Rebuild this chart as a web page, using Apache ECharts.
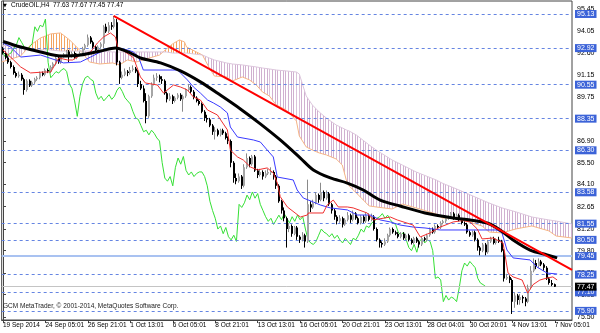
<!DOCTYPE html>
<html><head><meta charset="utf-8">
<script src="https://cdn.jsdelivr.net/npm/echarts@6/dist/echarts.min.js"></script>
<style>html,body{margin:0;padding:0;background:#fff;}#c{width:600px;height:333px;}</style>
</head><body><div id="c"></div>
<script>
// ---------- DATA ----------
const timeLabels = ["19 Sep 2014","24 Sep 05:01","26 Sep 21:01","1 Oct 13:01","6 Oct 05:01","8 Oct 21:01","13 Oct 13:01","16 Oct 05:01","20 Oct 21:01","23 Oct 13:01","28 Oct 04:01","30 Oct 20:01","4 Nov 13:01","7 Nov 05:01"];
const timeLabelBars = [0,16,32,48,64,80,96,112,128,144,160,176,192,208];
const priceTicks = [95.45,94.05,92.60,91.15,89.75,88.35,86.90,85.50,84.10,82.65,81.20,79.80,78.35,76.95,75.50];
const levels = [95.13,92.92,90.55,88.35,86.30,83.58,81.55,80.50,78.25,77.10,75.90];
const supportLevel = 79.45;
const bidPrice = 77.47;
const headerText = "CrudeOIL,H4  77.63 77.67 77.45 77.47";
const copyrightText = "GCM MetaTrader, \u00a9 2001-2014, MetaQuotes Software Corp.";

const opens = [92.9,92.6,92.3,92.0,91.7,91.3,91.1,91.2,90.9,90.2,90.8,90.5,90.7,90.9,91.0,91.3,91.2,91.5,91.4,91.7,
91.9,92.3,92.0,92.4,92.5,92.7,92.4,92.6,92.3,92.5,92.6,92.9,93.1,93.6,93.3,93.0,92.8,93.0,93.2,94.3,
94.0,94.4,94.3,94.6,92.0,91.0,91.2,91.4,91.3,91.5,91.6,91.4,90.6,90.3,89.5,88.5,89.8,90.6,91.0,91.1,
90.9,90.8,90.0,89.6,89.8,89.5,89.7,89.9,89.6,89.8,90.2,90.4,90.1,89.7,89.5,89.3,88.8,88.4,88.3,87.9,
87.5,87.6,87.3,87.6,87.4,87.1,86.9,85.5,84.5,84.3,84.6,84.0,85.2,85.8,85.4,85.9,85.0,84.7,84.9,84.6,
84.8,84.9,84.9,84.6,84.0,83.0,82.4,81.9,81.2,81.4,80.9,81.3,80.7,80.5,80.8,80.4,82.8,82.6,82.9,83.4,
83.1,83.6,83.2,83.5,82.8,82.4,82.0,81.7,81.9,81.5,81.8,82.1,81.8,82.2,81.9,81.6,82.0,81.7,82.1,81.8,
82.0,81.2,80.5,80.3,80.2,80.4,80.8,81.2,81.0,80.9,80.7,80.9,80.6,80.8,80.5,80.3,80.6,80.4,80.2,80.6,
80.5,80.8,81.2,81.0,81.4,81.3,81.6,81.7,81.9,82.0,82.2,81.9,82.1,81.8,81.6,81.5,81.0,80.8,81.0,80.5,
80.0,79.8,80.2,79.7,80.4,80.6,80.3,80.5,80.4,79.8,78.0,78.1,77.9,76.5,76.9,76.6,76.8,76.7,76.5,77.4,
78.5,79.0,78.8,79.1,78.9,78.7,78.0,77.7,77.63];
const highs = [93.0,92.7,92.4,92.1,91.8,91.4,91.4,91.3,91.0,90.9,90.9,90.8,91.0,91.1,91.4,91.4,91.6,91.6,91.8,92.0,
92.4,92.4,92.5,92.6,92.8,92.8,92.7,92.7,92.6,92.7,93.0,93.2,93.8,93.7,93.4,93.1,93.1,93.3,94.4,94.5,
94.6,94.6,95.0,94.8,92.1,91.4,91.6,91.5,91.7,91.8,91.7,91.5,90.8,90.5,90.0,89.9,90.7,91.2,91.3,91.2,
91.1,90.9,90.1,90.0,89.9,89.8,90.0,90.0,89.9,90.3,90.6,90.5,90.2,89.8,89.6,89.4,88.9,88.6,88.4,88.0,
87.8,87.7,87.7,87.7,87.5,87.2,87.0,85.6,84.8,84.8,84.7,85.4,86.1,85.9,86.0,86.0,85.1,85.1,85.0,85.0,
85.1,85.2,85.0,84.7,84.1,83.1,82.6,82.0,81.6,81.5,81.4,81.4,80.8,81.0,80.9,84.4,83.0,83.1,83.6,83.5,
84.2,83.7,83.7,83.6,82.9,82.5,82.1,82.1,82.0,81.9,82.3,82.2,82.4,82.3,82.0,82.1,82.1,82.3,82.2,82.2,
82.1,81.3,80.6,80.4,80.6,80.9,81.3,81.3,81.1,81.0,81.0,81.0,80.9,80.9,80.6,80.7,80.7,80.5,80.7,80.7,
80.9,81.3,81.3,81.5,81.5,81.7,81.8,82.0,82.1,82.3,82.3,82.2,82.2,81.9,81.7,81.6,81.1,81.1,81.1,80.6,
80.1,80.3,80.3,80.5,80.7,80.7,80.6,80.7,80.5,79.9,78.3,78.2,78.0,77.1,77.0,77.0,76.9,76.8,77.6,78.8,
79.3,79.2,79.3,79.2,79.0,78.8,78.1,77.9,77.67];
const lows = [92.5,92.2,91.9,91.6,91.2,91.0,91.0,90.8,89.9,90.1,90.4,90.4,90.6,90.8,90.9,91.1,91.1,91.3,91.3,91.6,
91.8,91.9,91.9,92.3,92.4,92.0,92.3,92.2,92.2,92.4,92.5,92.8,93.0,93.2,92.9,92.7,92.7,92.9,92.9,93.9,
93.9,94.1,94.2,91.8,90.6,90.9,91.1,91.1,91.2,91.4,91.3,90.4,90.2,89.4,88.05,88.4,89.7,90.5,90.8,90.7,
90.6,89.9,89.4,89.5,89.3,89.4,89.6,89.5,88.8,89.7,90.1,90.0,89.6,89.4,89.2,88.7,88.2,88.1,87.8,87.3,
87.0,87.2,87.2,87.3,87.0,86.7,85.2,84.2,84.1,84.2,83.8,83.9,85.1,85.2,85.3,84.9,84.5,84.6,84.4,84.5,
84.7,84.7,84.4,83.8,82.9,82.2,81.7,80.0,81.0,80.7,80.8,80.5,80.3,80.4,80.0,80.3,82.3,82.5,82.8,82.9,
83.0,83.0,83.1,82.7,82.2,81.8,81.5,81.6,81.3,81.4,81.7,81.6,81.7,81.8,81.5,81.5,81.6,81.6,81.7,81.7,
81.1,80.4,80.0,80.0,80.1,80.3,80.7,80.9,80.8,80.6,80.6,80.5,80.5,80.4,80.2,80.2,80.3,80.0,80.1,80.4,
80.4,80.7,80.9,80.9,81.2,81.2,81.5,81.6,81.8,81.9,81.8,81.8,81.7,81.5,81.4,80.9,80.7,80.7,80.4,79.8,
79.5,79.7,79.5,79.6,80.3,80.2,80.2,80.3,79.7,77.8,77.9,77.7,75.7,76.1,76.3,76.3,76.4,76.2,76.4,77.3,
78.4,78.6,78.7,78.8,78.5,77.9,77.6,77.5,77.45];
const closes = [92.6,92.3,92.0,91.7,91.3,91.1,91.2,90.9,90.2,90.8,90.5,90.7,90.9,91.0,91.3,91.2,91.5,91.4,91.7,91.9,
92.3,92.0,92.4,92.5,92.7,92.4,92.6,92.3,92.5,92.6,92.9,93.1,93.6,93.3,93.0,92.8,93.0,93.2,94.3,94.0,
94.4,94.3,94.8,92.0,91.0,91.2,91.4,91.3,91.5,91.6,91.4,90.6,90.3,89.5,88.5,89.8,90.6,91.0,91.1,90.9,
90.8,90.0,89.6,89.8,89.5,89.7,89.9,89.6,89.8,90.2,90.4,90.1,89.7,89.5,89.3,88.8,88.4,88.3,87.9,87.5,
87.6,87.3,87.6,87.4,87.1,86.9,85.5,84.5,84.3,84.6,84.0,85.2,85.8,85.4,85.9,85.0,84.7,84.9,84.6,84.8,
84.9,84.9,84.6,84.0,83.0,82.4,81.9,81.2,81.4,80.9,81.3,80.7,80.5,80.8,80.4,82.8,82.6,82.9,83.4,83.1,
83.6,83.2,83.5,82.8,82.4,82.0,81.7,81.9,81.5,81.8,82.1,81.8,82.2,81.9,81.6,82.0,81.7,82.1,81.8,82.0,
81.2,80.5,80.3,80.2,80.4,80.8,81.2,81.0,80.9,80.7,80.9,80.6,80.8,80.5,80.3,80.6,80.4,80.2,80.6,80.5,
80.8,81.2,81.0,81.4,81.3,81.6,81.7,81.9,82.0,82.2,81.9,82.1,81.8,81.6,81.5,81.0,80.8,81.0,80.5,80.0,
79.8,80.2,79.7,80.4,80.6,80.3,80.5,80.4,79.8,78.0,78.1,77.9,76.5,76.9,76.6,76.8,76.7,76.5,77.4,78.5,
79.0,78.8,79.1,78.9,78.7,78.0,77.7,77.6,77.47];
const chikouShift = 26;

// indicator lines: [bar index, price]
const maLine = [[0,93.35],[6.7,92.99],[14.2,92.67],[21.7,92.41],[29.2,92.47],[36.8,92.73],[42.4,92.93],[48.1,92.60],[51.8,92.28],[59.4,91.96],[66.9,91.44],[74.4,90.73],[81.9,89.88],[89.5,88.98],[97.0,88.01],[104.5,86.97],[112.1,85.80],[117.0,85.03],[123.4,84.51],[129.8,84.18],[135.8,83.73],[142.2,83.08],[149.7,82.69],[159.1,82.24],[169.7,81.92],[176.1,81.79],[182.5,81.59],[187.4,81.14],[192.3,80.49],[198.7,79.84],[205.1,79.52],[208.9,79.33]];
const tenkan = [[0,92.80],[4.0,92.15],[6.65,91.70],[10.4,91.31],[15.3,91.37],[18.0,91.37],[19.1,91.70],[21.0,92.28],[24.4,92.15],[26.2,92.15],[29.2,92.47],[33.0,92.67],[35.6,93.25],[37.9,93.64],[40.5,93.90],[42.4,93.64],[43.2,93.0],[49.2,92.3],[51.8,91.05],[53.7,90.66],[58.2,90.53],[60.5,90.01],[64.3,90.53],[66.9,90.40],[69.5,90.21],[71.8,89.75],[74.4,89.56],[77.1,88.91],[80.8,88.59],[84.6,87.62],[85.7,86.32],[88.4,85.87],[90.6,85.67],[93.3,85.22],[95.9,85.03],[99.6,85.16],[101.9,84.83],[103.4,84.18],[104.5,83.3],[107.2,82.63],[112.1,81.98],[114.7,82.11],[115.1,82.24],[120.7,82.24],[122.2,82.76],[124.5,83.08],[126.4,82.63],[129.8,82.63],[132.0,82.57],[137.3,82.24],[139.6,81.79],[146.0,81.98],[148.6,81.79],[154.6,81.46],[157.3,80.69],[161.0,80.95],[164.8,81.33],[167.4,81.50],[169.7,81.66],[173.4,81.75],[176.1,81.66],[178.8,81.20],[180.6,80.56],[184.7,80.62],[188.5,80.30],[190.4,78.35],[192.3,78.10],[195.7,77.90],[197.8,77.05],[199.8,77.60],[202.4,77.90],[205.1,78.03],[207.3,78.10],[208.9,77.90]];
const kijun = [[0,93.25],[2.9,92.99],[6.65,92.34],[14.2,92.47],[19.8,92.15],[22.8,91.96],[29.2,92.02],[33.0,92.34],[36.8,92.67],[40.5,92.93],[42.4,92.93],[46.9,92.80],[49.2,92.67],[51.1,92.34],[52.9,91.50],[65.8,91.50],[66.9,91.31],[69.5,90.86],[71.8,90.40],[74.4,90.01],[77.1,89.56],[79.3,89.37],[81.9,89.11],[84.6,88.72],[85.7,87.81],[88.4,87.16],[94.4,86.97],[97.0,86.84],[99.6,86.32],[101.9,85.87],[103.4,84.57],[109.4,84.38],[110.9,83.73],[113.2,83.21],[117.0,82.95],[119.6,82.76],[123.4,82.57],[129.8,82.44],[133.5,82.11],[138.4,82.11],[142.2,81.79],[146.0,81.66],[149.7,81.46],[154.6,81.33],[159.1,81.27],[164.8,81.14],[186.2,81.14],[188.1,80.95],[190.0,79.84],[192.3,79.33],[198.7,79.20],[201.3,78.74],[205.1,78.35],[208.9,78.29]];
// Ichimoku cloud: [bar index, Senkou Span A, Senkou Span B]
const cloud = [[-0.5,92.02,93.12],[6.65,92.41,92.93],[10.4,93.12,92.80],[14.2,93.58,92.80],[18.0,93.84,92.80],[21.7,93.90,92.73],[25.1,93.45,92.73],[30.0,92.60,92.73],[32.6,92.02,92.73],[36.4,91.89,92.73],[41.3,91.96,92.67],[43.9,91.83,92.67],[46.9,92.15,92.67],[50.3,92.02,92.67],[55.2,92.28,92.67],[59.0,92.47,92.67],[61.6,92.86,92.67],[63.9,93.19,92.60],[66.5,93.45,92.60],[68.4,93.32,92.60],[69.2,92.99,92.60],[75.2,92.47,92.47],[77.8,91.63,92.28],[79.7,91.11,92.15],[84.2,91.05,91.96],[86.5,90.79,91.89],[90.2,91.05,91.83],[92.9,90.86,91.76],[95.5,90.53,91.70],[97.8,90.08,91.63],[100.4,89.82,91.57],[103.0,89.24,91.50],[106.8,88.91,91.44],[110.6,88.20,91.37],[111.7,87.23,91.24],[114.3,86.52,89.82],[116.6,86.32,89.24],[119.2,86.13,88.78],[121.9,86.00,88.39],[125.6,85.74,87.94],[127.9,85.35,87.75],[129.4,84.38,87.62],[130.5,83.99,87.55],[133.2,83.54,87.29],[138.0,82.70,86.65],[140.7,82.63,86.32],[146.7,82.50,85.67],[150.5,82.82,85.35],[155.7,82.57,84.90],[163.3,82.18,84.38],[165.5,81.92,84.18],[171.9,81.86,83.73],[180.6,81.40,83.08],[183.2,81.01,82.89],[188.1,80.95,82.57],[193.4,81.21,82.31],[199.4,81.40,81.98],[205.8,81.08,81.79],[208.5,80.75,81.72],[214.5,80.62,81.53]];
const trendLine = [[41.7,95.0],[214.5,78.55]];

// ---------- CHART ----------
const chart = echarts.init(document.getElementById('c'), null, {renderer:'canvas'});
const FONT = 'Liberation Sans';
const labelMap = {}; timeLabelBars.forEach((b,k)=>labelMap[b]=timeLabels[k]);

function makePattern(color){
  const cv = document.createElement('canvas'); cv.width = 8; cv.height = 2;
  const ctx = cv.getContext('2d'); ctx.fillStyle = color;
  [0,3,5].forEach(x=>ctx.fillRect(x,0,1,2));
  return {image: cv, repeat: 'repeat'};
}
const orangePat = makePattern('#f4a460');
const pinkPat = makePattern('#d0b0d0');

const candleData = opens.map((o,i)=>[i,o,closes[i],lows[i],highs[i]]);
const chikou = closes.slice(chikouShift).map((c,k)=>[k,c]);
const cloudSegs = [];
for (let k=0;k<cloud.length-1;k++) cloudSegs.push(cloud[k].concat(cloud[k+1]));

const levelData = levels.map(v=>({yAxis:v, lineStyle:{color:'#6585e2', type:[3,3], width:1}, label:{formatter:v.toFixed(2)}}));
levelData.push({yAxis:supportLevel, lineStyle:{color:'#a9c2f1', type:'solid', width:2}, label:{formatter:supportLevel.toFixed(2)}});
levelData.push({yAxis:bidPrice, lineStyle:{color:'#c4c4c4', type:'solid', width:1}, label:{formatter:bidPrice.toFixed(2), backgroundColor:'#000'}});

const option = {
  animation:false,
  backgroundColor:'#fff',
  grid:{left:1, top:1, right:28, bottom:13, show:true, borderColor:'#444', borderWidth:1, backgroundColor:'#fff'},
  xAxis:{type:'value', min:-0.5, max:214.5, position:'bottom',
    axisLine:{show:true, lineStyle:{color:'#444'}},
    axisTick:{show:true, length:3, customValues:timeLabelBars, lineStyle:{color:'#444'}},
    axisLabel:{show:true, customValues:timeLabelBars, formatter:v=>labelMap[Math.round(v)]||'', align:'left', margin:2, fontSize:6.5, fontFamily:FONT, color:'#000', hideOverlap:false, showMinLabel:true, showMaxLabel:true},
    splitLine:{show:false}},
  yAxis:{type:'value', position:'right', min:75.31, max:95.97, scale:true,
    axisLine:{show:true, lineStyle:{color:'#444'}},
    axisTick:{show:true, length:3, customValues:priceTicks, lineStyle:{color:'#444'}},
    axisLabel:{show:true, customValues:priceTicks, formatter:v=>v.toFixed(2), margin:5, fontSize:7, fontFamily:FONT, color:'#000', hideOverlap:false, showMinLabel:true, showMaxLabel:true},
    splitLine:{show:false}},
  graphic:[
    {type:'text', left:3, top:3, z:100, style:{text:'\u25bc', font:'5px "DejaVu Sans"', fill:'#000'}},
    {type:'text', left:11, top:2, z:100, style:{text:headerText, font:'6.5px "Liberation Sans"', fill:'#000'}},
    {type:'text', left:3, top:303, z:100, style:{text:copyrightText, font:'6.5px "Liberation Sans"', fill:'#222'}}
  ],
  series:[
    {type:'line', data:[], z:1, silent:true,
      markLine:{symbol:'none', silent:true, animation:false, data:levelData,
        label:{show:true, position:'end', distance:3, color:'#fff', backgroundColor:'#3c63d8', padding:[1,2,0,2], fontSize:7, fontFamily:FONT}}},
    {type:'custom', z:2, silent:true, clip:true, data:cloudSegs,
      encode:{x:[0,3], y:[1,2,4,5]},
      renderItem:(params, api)=>{
        const i0=api.value(0), a0=api.value(1), b0=api.value(2), i1=api.value(3), a1=api.value(4), b1=api.value(5);
        const P=(x,y)=>api.coord([x,y]);
        const d0=a0-b0, d1=a1-b1, polys=[];
        if (d0*d1<0){
          const t=d0/(d0-d1), xi=i0+t*(i1-i0), yi=a0+t*(a1-a0);
          polys.push({pts:[P(i0,a0),P(xi,yi),P(i0,b0)], up:d0>0});
          polys.push({pts:[P(xi,yi),P(i1,a1),P(i1,b1)], up:d1>0});
        } else {
          polys.push({pts:[P(i0,a0),P(i1,a1),P(i1,b1),P(i0,b0)], up:(d0+d1)>0});
        }
        return {type:'group', children:polys.map(p=>({type:'polygon', shape:{points:p.pts}, style:{fill:p.up?orangePat:pinkPat}}))};
      }},
    {type:'line', z:3, data:cloud.map(r=>[r[0],r[1]]), showSymbol:false, lineStyle:{color:'#f6b585', width:1}, silent:true},
    {type:'line', z:3, data:cloud.map(r=>[r[0],r[2]]), showSymbol:false, lineStyle:{color:'#dcc6dc', width:1}, silent:true},
    {type:'line', z:4, data:chikou, showSymbol:false, lineStyle:{color:'#35e035', width:1}, silent:true},
    {type:'custom', z:5, silent:true, clip:true, data:candleData, encode:{x:0, y:[1,2,3,4]},
      renderItem:(params, api)=>{
        const i=api.value(0), o=api.value(1), c=api.value(2), l=api.value(3), h=api.value(4);
        const pO=api.coord([i,o]), pC=api.coord([i,c]), pL=api.coord([i,l]), pH=api.coord([i,h]);
        const x=Math.round(pO[0]);
        const bull=c>=o;
        const top=Math.min(pO[1],pC[1]), bot=Math.max(pO[1],pC[1]);
        return {type:'group', children:[
          {type:'line', shape:{x1:x-0.5, y1:pH[1], x2:x-0.5, y2:pL[1]}, style:{stroke:bull?'#8a8a8a':'#000', lineWidth:1}},
          {type:'rect', shape:{x:x-1, y:top, width:2, height:Math.max(1,bot-top)}, style:{fill:bull?'#a6a6a6':'#000'}}
        ]};
      }},
    {type:'line', z:6, data:kijun, showSymbol:false, lineStyle:{color:'#3a3aff', width:1}, silent:true},
    {type:'line', z:6, data:tenkan, showSymbol:false, lineStyle:{color:'#f03030', width:1}, silent:true},
    {type:'line', z:7, data:maLine, showSymbol:false, smooth:0.3, lineStyle:{color:'#000', width:3}, silent:true},
    {type:'line', z:8, data:trendLine, showSymbol:false, lineStyle:{color:'#ff0000', width:2}, silent:true}
  ]
};
chart.setOption(option);
</script></body></html>
